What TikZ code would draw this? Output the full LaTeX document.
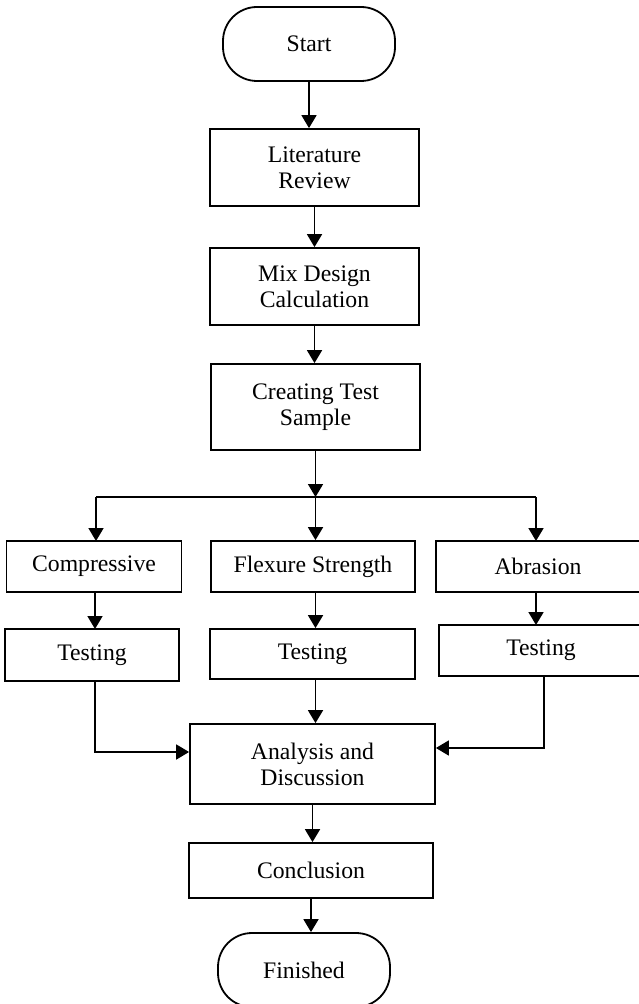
\documentclass[tikz,border=0pt]{standalone}
\usepackage{fontspec}
\setmainfont{Liberation Serif}
\usetikzlibrary{arrows.meta,positioning}

\begin{document}
\begin{tikzpicture}[x=0.5pt, y=-0.5pt, line width=0.9pt,
	box/.style={draw, inner sep=0pt, align=center, font=\fontsize{11.85}{13}\selectfont},
	term/.style={box, rounded corners=17pt},
	arr/.style={-{Triangle[width=7.5pt,length=6.5pt]}}]
	\useasboundingbox (0,0) rectangle (638,1004);
	% main line
	\node[term, minimum width=86pt, minimum height=37pt] (start) at (309,44) {Start};
	\node[box, minimum width=104.5pt, minimum height=38.5pt] (lit) at (314.5,167.5) {Literature\\Review};
	\node[box, minimum width=104.5pt, minimum height=38.5pt] (mix) at (314.5,286.5) {Mix Design\\Calculation};
	\node[box, minimum width=104.5pt, minimum height=43pt] (create) at (315.5,407) {Creating Test\\Sample};
	\coordinate (br) at (315.5,497);
	% three tests
	\node[box, minimum width=87.5pt, minimum height=25.5pt] (comp) at (94,566.5) {Compressive};
	\node[box, minimum width=102pt, minimum height=25.5pt] (flex) at (313,566.5) {Flexure Strength};
	\node[box, minimum width=102pt, minimum height=25.5pt] (abr) at (538,566.5) {Abrasion};
	\node[box, minimum width=87pt, minimum height=26pt] (test1) at (92,655) {Testing};
	\node[box, minimum width=102.5pt, minimum height=25pt] (test2) at (312.5,654) {Testing};
	\node[box, minimum width=102pt, minimum height=25.5pt] (test3) at (541,650.5) {Testing};
	% end
	\node[box, minimum width=122.5pt, minimum height=40pt] (ana) at (312.5,764) {Analysis and\\Discussion};
	\node[box, minimum width=122pt, minimum height=27.5pt] (conc) at (311,870.5) {Conclusion};
	\node[term, minimum width=86pt, minimum height=37pt] (fin) at (304,970) {Finished};
	\coordinate (c1) at (95,752);
	\coordinate (c3) at (544,748);

	\draw[arr] (start) -- (start |- lit.north);
	\draw[arr] (lit.south) -- (lit.south |- mix.north);
	\draw[arr] (mix.south) -- (mix.south |- create.north);
	\draw[arr] (create.south) -- (br);
	\draw (96,497) -- (536,497);
	\draw[arr] (96,497) -- (96,541);
	\draw[arr] (br) -- (br |- flex.north);
	\draw[arr] (536,497) -- (536,541);
	\draw[arr] (95,592) -- (95,629);
	\draw[arr] (br |- flex.south) -- (br |- test2.north);
	\draw[arr] (536,592) -- (536,625);
	\draw[arr] (c1 |- test1.south) -- (c1) -- (c1 -| ana.west);
	\draw[arr] (br |- test2.south) -- (br |- ana.north);
	\draw[arr] (c3 |- test3.south) -- (c3) -- (c3 -| ana.east);
	\draw[arr] (ana.south) -- (ana.south |- conc.north);
	\draw[arr] (conc.south) -- (conc.south |- fin.north);
\end{tikzpicture}
\end{document}
